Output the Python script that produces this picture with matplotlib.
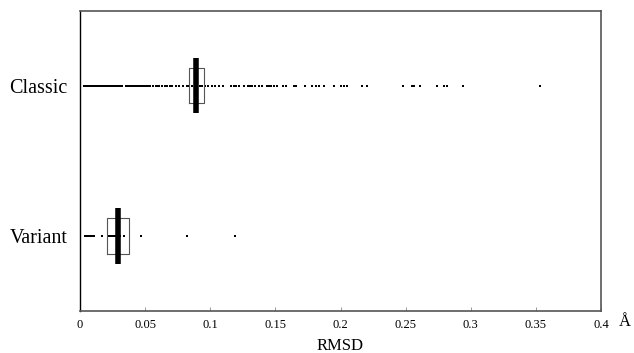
import matplotlib
matplotlib.use("Agg")
import matplotlib.pyplot as plt
import numpy as np

categories = ["Variant", "Classic"]

classic = [0.003, 0.004, 0.005, 0.0065, 0.008, 0.009, 0.0105, 0.012, 0.013, 0.0145,
           0.016, 0.017, 0.0185, 0.020, 0.021, 0.0225, 0.024, 0.025, 0.0265, 0.028,
           0.029, 0.0305, 0.032, 0.035, 0.036, 0.0375, 0.039, 0.040, 0.0415, 0.043,
           0.044, 0.0455, 0.047, 0.048, 0.0495, 0.051, 0.0525, 0.054, 0.056, 0.058,
           0.0595, 0.061, 0.063, 0.065, 0.067, 0.069, 0.071, 0.0735, 0.076, 0.079,
           0.082, 0.084, 0.086, 0.088, 0.090, 0.092, 0.094, 0.096, 0.0985, 0.101,
           0.104, 0.107, 0.110, 0.116, 0.118, 0.1195, 0.122, 0.126, 0.129, 0.1308,
           0.132, 0.134, 0.1377, 0.1397, 0.1436, 0.1454, 0.147, 0.1487, 0.1513, 0.1556,
           0.158, 0.164, 0.166, 0.173, 0.178, 0.181, 0.1833, 0.1877, 0.1949, 0.200,
           0.2026, 0.205, 0.2167, 0.2205, 0.248, 0.2546, 0.2564, 0.2608, 0.2744, 0.2795,
           0.282, 0.294, 0.353]

variant = [0.004, 0.005, 0.006, 0.007, 0.008, 0.009, 0.0105, 0.017, 0.0215, 0.023,
           0.0245, 0.026, 0.028, 0.031, 0.034, 0.047, 0.082, 0.119]

q1 = [0.0208, 0.084]
medians = [0.029, 0.0892]
q3 = [0.0375, 0.095]

xticks = [0, 0.05, 0.1, 0.15, 0.2, 0.25, 0.3, 0.35, 0.4]
xticklabels = ["0", "0.05", "0.1", "0.15", "0.2", "0.25", "0.3", "0.35", "0.4"]

plt.rcParams['font.family'] = ['Liberation Serif', 'DejaVu Serif']

fig = plt.figure(figsize=(6.34, 3.53), dpi=100)
ax = fig.add_axes([80/634, 1 - 311/353, 521/634, 300.5/353])

positions = [0, 1]
series = [variant, classic]
for pos, vals in zip(positions, series):
    ax.plot(vals, [pos] * len(vals), 's', color='black', ms=1.9, mew=0, zorder=2)

stats = []
for i in range(2):
    stats.append({'med': medians[i], 'q1': q1[i], 'q3': q3[i],
                  'whislo': q1[i], 'whishi': q3[i], 'fliers': []})
ax.bxp(stats, positions=positions, vert=False, widths=0.235, showcaps=False,
       showfliers=False,
       boxprops=dict(color='#555555', linewidth=0.8),
       whiskerprops=dict(linewidth=0),
       medianprops=dict(linewidth=0), manage_ticks=False, zorder=3)
ax.vlines(medians, [p - 0.185 for p in positions], [p + 0.185 for p in positions],
          color='black', linewidth=4, zorder=4)

ax.set_xlim(0, 0.4)
ax.set_ylim(-0.5, 1.5)
ax.set_xticks(xticks)
ax.set_xticklabels(xticklabels, fontsize=9)
ax.set_yticks(positions)
ax.set_yticklabels(categories, fontsize=14.5)
ax.tick_params(axis='x', direction='in', length=3, width=0.6, color='#888888', pad=6)
ax.tick_params(axis='y', length=0, pad=9)
for s in ['top', 'right', 'bottom']:
    ax.spines[s].set_color('#555555')
    ax.spines[s].set_linewidth(1.2)
ax.spines['left'].set_color('black')
ax.spines['left'].set_linewidth(1.0)

ax.set_xlabel("RMSD", fontsize=12, labelpad=5)
fig.text(625/634, 1 - 322/353, "Å", ha='center', va='center', fontsize=12)

fig.savefig("out.png", dpi=100)
